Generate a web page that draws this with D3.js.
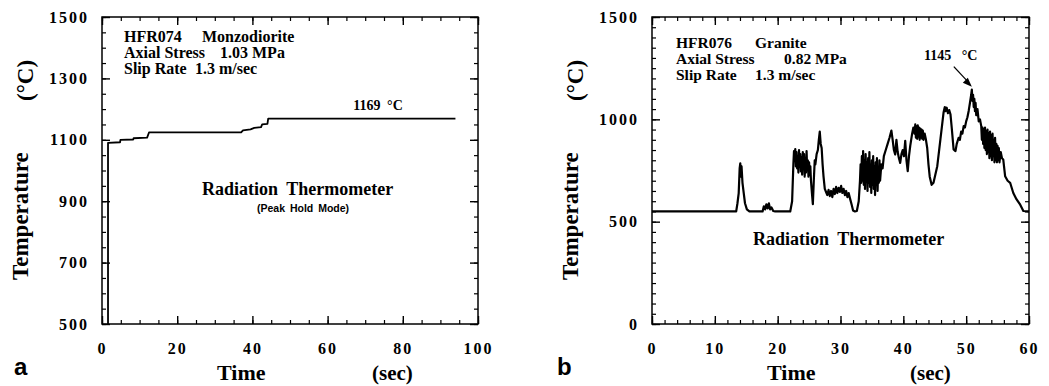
<!DOCTYPE html>
<html>
<head>
<meta charset="utf-8">
<script src="https://cdn.jsdelivr.net/npm/d3@7"></script>
<style>
  body { margin: 0; background: #fff; }
  svg { display: block; }
  .tick text { font-family: "Liberation Serif", "DejaVu Serif", serif; font-weight: 700; font-size: 16px; letter-spacing: 2px; fill: #000; }
</style>
</head>
<body>
<svg id="chart" width="1049" height="386"></svg>
<script>
// panel a : peak hold trace (time s, temperature C)
const monzoTrace = [
  [1.6, 500], [1.6, 1090], [4.8, 1092], [4.9, 1100], [8.3, 1101], [8.4, 1105], [12.0, 1107],
  [12.5, 1124], [37.0, 1124], [37.5, 1131], [39.5, 1134], [40.5, 1139], [42.3, 1141],
  [42.6, 1150], [44.0, 1152], [44.2, 1169], [94.0, 1169]
];

// panel b : radiation thermometer trace (time s, temperature C)
const graniteTrace = [
  [0, 550], [13.4, 550], [13.6, 590], [13.8, 640], [13.95, 760], [14.05, 785], [14.15, 720],
  [14.25, 770], [14.4, 690], [14.6, 640], [14.8, 590], [15.1, 560], [15.5, 550], [17.6, 550],
  [17.8, 575], [18.0, 560], [18.2, 585], [18.4, 565], [18.6, 590], [18.8, 560], [19.0, 570],
  [19.3, 552], [19.6, 550], [22.0, 550], [22.3, 600], [22.5, 780], [22.6, 845],
  [22.7, 800], [22.8, 855], [22.9, 770], [23.0, 840], [23.1, 760], [23.2, 820], [23.3, 740],
  [23.4, 850], [23.5, 770], [23.6, 830], [23.7, 745], [23.8, 815], [23.9, 730], [24.0, 840],
  [24.1, 760], [24.2, 830], [24.3, 720], [24.4, 810], [24.5, 740], [24.6, 845], [24.7, 750],
  [24.8, 800], [24.9, 720], [25.0, 790], [25.1, 730], [25.2, 770], [25.3, 700], [25.45, 640],
  [25.6, 585], [25.75, 700], [25.9, 800], [26.0, 780], [26.2, 830], [26.4, 850], [26.55, 900],
  [26.7, 940], [26.85, 880], [27.0, 860], [27.15, 780], [27.3, 720], [27.5, 660], [27.7, 645],
  [27.9, 630], [28.1, 655], [28.3, 625], [28.5, 650], [28.7, 620], [28.9, 660], [29.1, 635],
  [29.3, 670], [29.5, 640], [29.7, 665], [29.9, 645], [30.1, 675], [30.3, 640], [30.5, 660],
  [30.7, 630], [30.9, 650], [31.1, 620], [31.3, 640], [31.5, 615], [31.8, 580], [32.0, 555],
  [32.3, 550], [32.6, 552], [32.9, 600], [33.1, 700],
  [33.2, 780], [33.3, 690], [33.4, 820], [33.5, 700], [33.6, 845], [33.7, 680], [33.8, 800],
  [33.9, 660], [34.0, 830], [34.1, 700], [34.2, 790], [34.3, 650], [34.4, 810], [34.5, 690],
  [34.6, 840], [34.7, 670], [34.8, 780], [34.9, 640], [35.0, 800], [35.1, 680], [35.2, 820],
  [35.3, 660], [35.4, 770], [35.5, 630], [35.6, 790], [35.7, 680], [35.8, 810], [35.9, 650],
  [36.0, 760], [36.1, 690], [36.2, 800], [36.3, 700], [36.5, 780], [36.7, 760], [36.9, 820],
  [37.2, 850], [37.5, 880], [37.8, 910], [38.1, 945], [38.3, 900], [38.5, 850], [38.7, 828],
  [38.9, 900], [39.1, 840], [39.3, 810], [39.5, 787], [39.7, 830], [39.9, 850], [40.1, 820],
  [40.3, 895], [40.5, 800], [40.7, 747], [40.9, 820], [41.1, 870], [41.4, 930], [41.6, 960],
  [41.8, 930], [41.9, 975], [42.0, 910], [42.1, 965], [42.2, 905], [42.3, 970], [42.4, 915],
  [42.5, 960], [42.6, 900], [42.7, 955], [42.8, 910], [42.9, 950], [43.0, 905], [43.1, 945],
  [43.2, 900], [43.4, 930], [43.6, 900], [43.8, 860], [44.0, 780], [44.2, 720], [44.5, 680],
  [44.8, 690], [45.1, 730], [45.4, 771], [45.7, 850], [45.9, 902], [46.2, 980], [46.4, 1033],
  [46.6, 1060], [46.7, 1040], [46.9, 1057], [47.1, 1030], [47.3, 1045], [47.5, 1025],
  [47.7, 960], [48.0, 853], [48.3, 845], [48.5, 880], [48.8, 910], [49.0, 900], [49.2, 940],
  [49.4, 930], [49.6, 967], [49.8, 960], [50.0, 990], [50.2, 1010], [50.4, 1041], [50.6, 1080],
  [50.8, 1120], [50.9, 1145], [51.0, 1090], [51.1, 1120], [51.2, 1060], [51.3, 1100],
  [51.4, 1040], [51.5, 1080], [51.6, 1020], [51.8, 1050], [52.0, 990], [52.2, 1000], [52.4, 967],
  [52.5, 900], [52.6, 960], [52.7, 880], [52.8, 950], [52.9, 860], [53.0, 960], [53.1, 850],
  [53.2, 940], [53.3, 830], [53.4, 950], [53.5, 840], [53.6, 930], [53.7, 810], [53.8, 940],
  [53.9, 820], [54.0, 920], [54.1, 800], [54.2, 930], [54.3, 820], [54.4, 900], [54.5, 790],
  [54.6, 910], [54.7, 800], [54.8, 880], [54.9, 790], [55.0, 870], [55.1, 800], [55.2, 860],
  [55.3, 790], [55.5, 840], [55.7, 810], [55.9, 804], [56.2, 722], [56.6, 700], [57.0, 690],
  [57.5, 640], [58.0, 610], [58.6, 583], [59.1, 552], [60.0, 550]
];

const monzoXTicks = [0, 20, 40, 60, 80, 100];
const monzoYTicks = [500, 700, 900, 1100, 1300, 1500];
const graniteXTicks = [0, 10, 20, 30, 40, 50, 60];
const graniteYTicks = [0, 500, 1000, 1500];

const monzoInfo = [
  ["HFR074", "Monzodiorite"],
  ["Axial Stress", "1.03 MPa"],
  ["Slip Rate", "1.3 m/sec"]
];
const graniteInfo = [
  ["HFR076", "Granite"],
  ["Axial Stress", "0.82 MPa"],
  ["Slip Rate", "1.3 m/sec"]
];

const serif = '"Liberation Serif", "Times New Roman", serif';
const sans = '"Liberation Sans", Arial, sans-serif';

const svg = d3.select("#chart");
svg.append("rect").attr("width", 1049).attr("height", 386).attr("fill", "#fff");

function drawPanel(p) {
  const w = p.width, h = 307;
  const g = svg.append("g").attr("transform", `translate(${p.left},17)`);
  const x = d3.scaleLinear().domain(p.xDomain).range([0, w]);
  const y = d3.scaleLinear().domain(p.yDomain).range([h, 0]);

  const xMinor = d3.range(p.xDomain[0], p.xDomain[1] + 0.001, p.xMinorStep);
  const yMinor = d3.range(p.yDomain[0], p.yDomain[1] + 0.001, p.yMinorStep);

  // minor ticks, all four sides, pointing in
  const minorAxes = [
    [d3.axisBottom(x).tickValues(xMinor), `translate(0,${h})`],
    [d3.axisTop(x).tickValues(xMinor), null],
    [d3.axisLeft(y).tickValues(yMinor), null],
    [d3.axisRight(y).tickValues(yMinor), `translate(${w},0)`]
  ];
  minorAxes.forEach(([ax, tr]) => {
    const a = g.append("g").call(ax.tickSize(-4).tickFormat(""));
    if (tr) a.attr("transform", tr);
    a.select(".domain").remove();
    a.selectAll("line").attr("stroke", "#000").attr("stroke-width", 1.2);
  });

  const majorAxes = [
    [d3.axisBottom(x).tickValues(p.xTicks), `translate(0,${h})`, true],
    [d3.axisTop(x).tickValues(p.xTicks), null, false],
    [d3.axisLeft(y).tickValues(p.yTicks), null, true],
    [d3.axisRight(y).tickValues(p.yTicks), `translate(${w},0)`, false]
  ];
  majorAxes.forEach(([ax, tr, labels], i) => {
    ax.tickSize(-8).tickPadding(i === 0 ? 19 : 13).tickFormat(labels ? d3.format("d") : "");
    const a = g.append("g").call(ax);
    if (tr) a.attr("transform", tr);
    a.select(".domain").remove();
    a.selectAll("line").attr("stroke", "#000").attr("stroke-width", 1.4);
    a.selectAll("text").attr("font-family", null).attr("font-size", null);
  });

  g.append("rect")
    .attr("width", w).attr("height", h)
    .attr("fill", "none").attr("stroke", "#000").attr("stroke-width", 1.5);

  const line = d3.line().x((d) => x(d[0])).y((d) => y(d[1]));
  g.append("path")
    .datum(p.trace)
    .attr("d", line)
    .attr("fill", "none")
    .attr("stroke", "#000")
    .attr("stroke-width", p.lineWidth)
    .attr("stroke-linejoin", "round");

  // info block: label + value column
  p.info.forEach((row, i) => {
    const t = g.append("text")
      .attr("y", p.infoY + i * 16)
      .attr("font-family", serif).attr("font-weight", 700).attr("font-size", p.infoSize);
    t.append("tspan").attr("x", p.infoX).text(row[0]);
    t.append("tspan").attr("x", p.infoX + p.infoCols[i]).text(row[1]);
  });

  // axis titles
  svg.append("text")
    .attr("x", p.left + 115).attr("y", 380)
    .attr("font-family", serif).attr("font-weight", 700).attr("font-size", 22)
    .text("Time");
  svg.append("text")
    .attr("x", p.left + p.secX).attr("y", 380)
    .attr("font-family", serif).attr("font-weight", 700).attr("font-size", 21)
    .text("(sec)");
  svg.append("text")
    .attr("transform", `translate(${p.left - 74},280) rotate(-90)`)
    .attr("font-family", serif).attr("font-weight", 700).attr("font-size", 23)
    .text("Temperature");
  svg.append("text")
    .attr("transform", `translate(${p.left - 69},101) rotate(-90)`)
    .attr("font-family", serif).attr("font-weight", 700).attr("font-size", 23)
    .text("(°C)");
  svg.append("text")
    .attr("x", p.left - p.letterX).attr("y", 375)
    .attr("font-family", sans).attr("font-weight", 700).attr("font-size", 24)
    .text(p.letter);

  return { g, x, y };
}

// ---- panel a ----
const a = drawPanel({
  left: 102, width: 376,
  xDomain: [0, 100], yDomain: [500, 1500],
  xTicks: monzoXTicks, yTicks: monzoYTicks,
  xMinorStep: 5, yMinorStep: 50,
  trace: monzoTrace, lineWidth: 1.8,
  info: monzoInfo, infoX: 22, infoY: 25, infoSize: 16, infoCols: [78, 96, 71],
  secX: 270, letter: "a", letterX: 88
});

a.g.append("text")
  .attr("x", 100).attr("y", 178)
  .attr("font-family", serif).attr("font-weight", 700).attr("font-size", 18)
  .attr("word-spacing", 4)
  .text("Radiation Thermometer");
a.g.append("text")
  .attr("x", 155).attr("y", 195)
  .attr("font-family", sans).attr("font-weight", 700).attr("font-size", 10.5)
  .attr("word-spacing", 2)
  .text("(Peak Hold Mode)");
a.g.append("text")
  .attr("x", a.x(80)).attr("y", a.y(1169) - 9)
  .attr("text-anchor", "end")
  .attr("font-family", serif).attr("font-weight", 700).attr("font-size", 14)
  .attr("word-spacing", 3)
  .text("1169 °C");

// ---- panel b ----
const b = drawPanel({
  left: 652, width: 377,
  xDomain: [0, 60], yDomain: [0, 1500],
  xTicks: graniteXTicks, yTicks: graniteYTicks,
  xMinorStep: 2, yMinorStep: 50,
  trace: graniteTrace, lineWidth: 2.2,
  info: graniteInfo, infoX: 24, infoY: 31, infoSize: 15.5, infoCols: [79, 108, 79],
  secX: 258, letter: "b", letterX: 95
});

b.g.append("text")
  .attr("x", 101).attr("y", 228)
  .attr("font-family", serif).attr("font-weight", 700).attr("font-size", 18)
  .attr("word-spacing", 4)
  .text("Radiation Thermometer");

b.g.append("text")
  .attr("x", 272).attr("y", 43)
  .attr("font-family", serif).attr("font-weight", 700).attr("font-size", 14)
  .attr("word-spacing", 7)
  .text("1145 °C");

// arrow to the peak
const peak = graniteTrace.reduce((m, d) => (d[1] > m[1] ? d : m));
const tipX = b.x(peak[0]), tipY = b.y(peak[1]) - 3;
b.g.append("line")
  .attr("x1", tipX - 18).attr("y1", tipY - 20)
  .attr("x2", tipX - 4).attr("y2", tipY - 5)
  .attr("stroke", "#000").attr("stroke-width", 1.3);
b.g.append("path")
  .attr("d", `M${tipX},${tipY} L${tipX - 9},${tipY - 4} L${tipX - 4},${tipY - 9} Z`)
  .attr("fill", "#000");
</script>
</body>
</html>
